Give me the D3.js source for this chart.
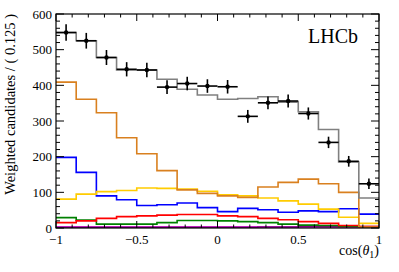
<!DOCTYPE html>
<html>
<head>
<meta charset="utf-8">
<script src="https://cdn.jsdelivr.net/npm/d3@7"></script>
<style>
  body { margin: 0; background: #fff; }
  svg { display: block; }
  text { font-family: "Liberation Serif", "DejaVu Serif", serif; }
</style>
</head>
<body>
<svg></svg>
<script>
var margin = {top: 14, right: 20, bottom: 44, left: 56},
    width = 399 - margin.left - margin.right,
    height = 272 - margin.top - margin.bottom;

// bin edges: 16 bins of 0.125 from -1 to 1
var binLow = [-1, -0.875, -0.75, -0.625, -0.5, -0.375, -0.25, -0.125,
              0, 0.125, 0.25, 0.375, 0.5, 0.625, 0.75, 0.875];
var binWidth = 0.125;

// data points and errors
var dataVals = [548, 525, 478, 445, 443, 395, 405, 398, 396, 313, 351, 356, 321, 240, 187, 124];
var dataErrs = [23, 22, 21, 20, 20, 19, 19, 19, 19, 18, 18, 18, 17, 16, 15, 15];

// fit components
var totalFit  = [548, 525, 478, 443, 443, 417, 389, 373, 361, 363, 368, 353, 326, 276, 185, 84];
var orangeCmp = [409, 361, 323, 253, 208, 161, 107, 97, 90, 86, 115, 128, 137, 124, 100, 3];
var yellowCmp = [81, 95, 102, 105, 112, 111, 109, 103, 93, 90, 84, 76, 67, 53, 30, 13];
var blueCmp   = [198, 156, 90, 79, 63, 65, 70, 57, 46, 55, 51, 44, 48, 46, 54, 39];
var redCmp    = [15, 20, 27, 32, 34, 36, 38, 38, 34, 32, 27, 23, 18, 13, 7, 4];
var greenCmp  = [29, 22, 11, 11, 11, 15, 21, 21, 20, 18, 15, 11, 8, 7, 4, 3];
var purpleCmp = [2, 2, 2, 2, 2, 2, 2, 2, 2, 2, 3, 3, 4, 4, 4, 4];
var magentaCmp = [3, 3, 3, 3, 3, 3, 3, 3, 3, 3, 3, 3, 3, 3, 3, 3];

var xTicks = [-1, -0.5, 0, 0.5, 1];
var yTicks = [0, 100, 200, 300, 400, 500, 600];

var svg = d3.select("svg")
    .attr("width", width + margin.left + margin.right)
    .attr("height", height + margin.top + margin.bottom)
    .append("g")
    .attr("transform", "translate(" + margin.left + "," + margin.top + ")");

var x = d3.scaleLinear().domain([-1, 1]).range([0, width]);
var y = d3.scaleLinear().domain([0, 600]).range([height, 0]);

// step histogram
var line = d3.line()
    .x(function(d) { return x(d[0]); })
    .y(function(d) { return y(d[1]); })
    .curve(d3.curveStepAfter);

function stepPts(vals) {
    var pts = binLow.map(function(b, i) { return [b, vals[i]]; });
    pts.push([binLow[binLow.length - 1] + binWidth, vals[vals.length - 1]]);
    return pts;
}

var series = [
    {v: magentaCmp, c: "#ff00ff"},
    {v: purpleCmp, c: "#800080"},
    {v: greenCmp, c: "#008000"},
    {v: redCmp, c: "#ff0000"},
    {v: blueCmp, c: "#0000ff"},
    {v: yellowCmp, c: "#ffcc00"},
    {v: orangeCmp, c: "#d9801f"},
    {v: totalFit, c: "#808080"}
];

var clip = svg.append("clipPath").attr("id", "clip")
    .append("rect").attr("width", width).attr("height", height);

var plot = svg.append("g").attr("clip-path", "url(#clip)");

series.forEach(function(s) {
    plot.append("path")
        .attr("d", line(stepPts(s.v)))
        .attr("fill", "none")
        .attr("stroke", s.c)
        .attr("stroke-width", 1.6);
});

// data points
var pts = plot.append("g");
binLow.forEach(function(b, i) {
    var cx = b + binWidth / 2;
    pts.append("line")
        .attr("x1", x(b)).attr("x2", x(b + binWidth))
        .attr("y1", y(dataVals[i])).attr("y2", y(dataVals[i]))
        .attr("stroke", "black").attr("stroke-width", 1.6);
    pts.append("line")
        .attr("x1", x(cx)).attr("x2", x(cx))
        .attr("y1", y(dataVals[i] - dataErrs[i])).attr("y2", y(dataVals[i] + dataErrs[i]))
        .attr("stroke", "black").attr("stroke-width", 1.6);
    pts.append("circle")
        .attr("cx", x(cx)).attr("cy", y(dataVals[i]))
        .attr("r", 2.2).attr("fill", "black");
});

// frame
svg.append("rect")
    .attr("width", width).attr("height", height)
    .attr("fill", "none").attr("stroke", "black").attr("stroke-width", 1.2);

// ticks, inward on all four sides
var xMinor = d3.range(-10, 11).map(function(k) { return k / 10; });
var yMinor = d3.range(0, 31).map(function(k) { return k * 20; });
var tk = svg.append("g").attr("stroke", "black").attr("stroke-width", 1);

xMinor.forEach(function(t) {
    var major = Math.abs(t * 2 - Math.round(t * 2)) < 1e-6;
    var len = major ? 7 : 3.5;
    tk.append("line").attr("x1", x(t)).attr("x2", x(t)).attr("y1", height).attr("y2", height - len);
    tk.append("line").attr("x1", x(t)).attr("x2", x(t)).attr("y1", 0).attr("y2", len);
});
yMinor.forEach(function(t) {
    var major = t % 100 === 0;
    var len = major ? 8 : 4;
    tk.append("line").attr("x1", 0).attr("x2", len).attr("y1", y(t)).attr("y2", y(t));
    tk.append("line").attr("x1", width).attr("x2", width - len).attr("y1", y(t)).attr("y2", y(t));
});

// tick labels
svg.selectAll(".xl").data(xTicks).join("text")
    .attr("x", function(d) { return x(d); })
    .attr("y", height + 16)
    .attr("text-anchor", "middle")
    .attr("font-size", 13)
    .text(function(d) { return d < 0 ? "\u2212" + Math.abs(d) : d; });

svg.selectAll(".yl").data(yTicks).join("text")
    .attr("x", -4)
    .attr("y", function(d) { return y(d) + 4.5; })
    .attr("text-anchor", "end")
    .attr("font-size", 13)
    .text(function(d) { return d; });

// axis titles
svg.append("text")
    .attr("transform", "translate(" + (-41) + "," + 0 + ") rotate(-90)")
    .attr("text-anchor", "end")
    .attr("font-size", 14.5)
    .text("Weighted candidates / ( 0.125 )");

var xt = svg.append("text")
    .attr("x", width)
    .attr("y", height + 27)
    .attr("text-anchor", "end")
    .attr("font-size", 14);
xt.append("tspan").text("cos(");
xt.append("tspan").attr("font-style", "italic").text("\u03b8");
xt.append("tspan").attr("font-size", 10).attr("dy", 3).text("1");
xt.append("tspan").attr("dy", -3).text(")");

svg.append("text")
    .attr("x", width - 21)
    .attr("y", 29)
    .attr("text-anchor", "end")
    .attr("font-size", 20)
    .text("LHCb");
</script>
</body>
</html>
